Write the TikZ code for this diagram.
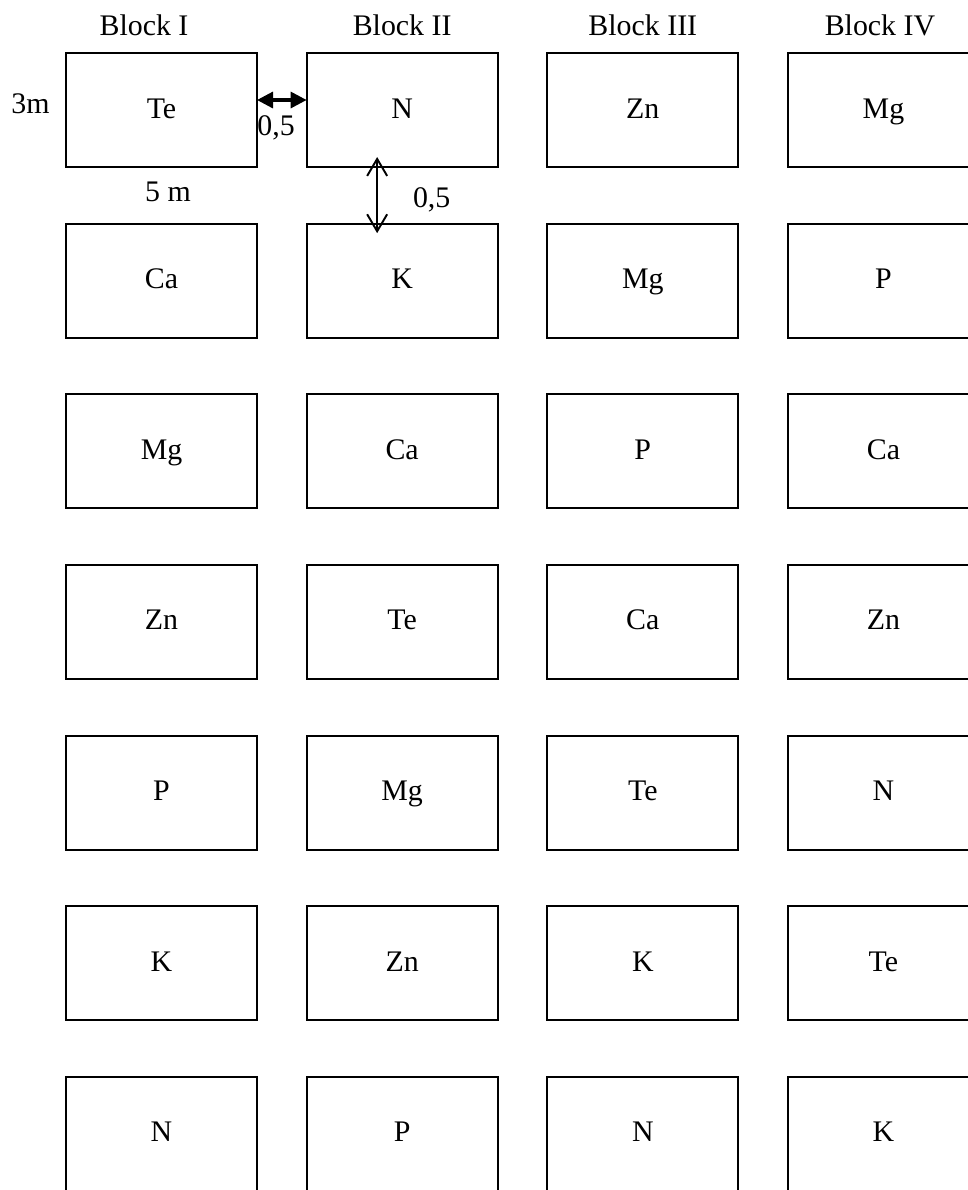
\documentclass[tikz,border=0pt]{standalone}
\usepackage{fontspec}
\setmainfont{Liberation Serif}
\usetikzlibrary{
    arrows.meta,
    positioning
}

\begin{document}
\begin{tikzpicture}[
    node distance=1.133cm and 0.993cm,
    cell/.style={rectangle, draw=black, line width=1.1pt, minimum width=3.82cm, minimum height=2.28cm, inner sep=0pt, outer sep=0pt, text height=0.32cm, text depth=0cm, text centered, font=\fontsize{17}{20}\selectfont},
    blockhead/.style={inner sep=0pt, font=\fontsize{17}{20}\selectfont},
    dimlabel/.style={inner sep=0pt, font=\fontsize{17}{20}\selectfont},
    gaparrow/.style={line width=1.8pt, {Triangle[length=0.32cm,width=0.32cm]}-{Triangle[length=0.32cm,width=0.32cm]}},
    walkarrow/.style={line width=1.1pt, {Straight Barb[length=0.34cm,width=0.4cm]}-{Straight Barb[length=0.34cm,width=0.4cm]}}
]
    \useasboundingbox (0,0) rectangle (19.36,-23.8);
    \clip (0,0) rectangle (19.36,-23.8);

    \node[cell] (te1) at (3.23,-2.20) {Te};
    \node[cell] (n2) [right=of te1] {N};
    \node[cell] (zn3) [right=of n2] {Zn};
    \node[cell] (mg4) [right=of zn3] {Mg};

    \node[cell] (ca1) [below=of te1] {Ca};
    \node[cell] (k2) [below=of n2] {K};
    \node[cell] (mg3) [below=of zn3] {Mg};
    \node[cell] (p4) [below=of mg4] {P};

    \node[cell] (mg1) [below=of ca1] {Mg};
    \node[cell] (ca2) [below=of k2] {Ca};
    \node[cell] (p3) [below=of mg3] {P};
    \node[cell] (ca4) [below=of p4] {Ca};

    \node[cell] (zn1) [below=of mg1] {Zn};
    \node[cell] (te2) [below=of ca2] {Te};
    \node[cell] (ca3) [below=of p3] {Ca};
    \node[cell] (zn4) [below=of ca4] {Zn};

    \node[cell] (p1) [below=of zn1] {P};
    \node[cell] (mg2) [below=of te2] {Mg};
    \node[cell] (te3) [below=of ca3] {Te};
    \node[cell] (n4) [below=of zn4] {N};

    \node[cell] (k1) [below=of p1] {K};
    \node[cell] (zn2) [below=of mg2] {Zn};
    \node[cell] (k3) [below=of te3] {K};
    \node[cell] (te4) [below=of n4] {Te};

    \node[cell] (n1) [below=of k1] {N};
    \node[cell] (p2) [below=of zn2] {P};
    \node[cell] (n3) [below=of k3] {N};
    \node[cell] (k4) [below=of te4] {K};

    \node[blockhead, anchor=base] (blockI) at ([xshift=-0.35cm,yshift=0.36cm]te1.north) {Block I};
    \node[blockhead, anchor=base] (blockII) at ([yshift=0.36cm]n2.north) {Block II};
    \node[blockhead, anchor=base] (blockIII) at ([yshift=0.36cm]zn3.north) {Block III};
    \node[blockhead, anchor=base] (blockIV) at ([xshift=-0.07cm,yshift=0.36cm]mg4.north) {Block IV};

    \node[dimlabel, left=0.32cm of te1.west, yshift=0.12cm] (side) {3m};
    \node[dimlabel, below=0.3cm of te1.south, xshift=0.13cm] (length) {5 m};
    \node[dimlabel, anchor=north west] (gapx) at ([yshift=-0.1cm]te1.east) {0,5};
    \node[dimlabel, anchor=north west] (gapy) at ([xshift=0.21cm,yshift=-0.4cm]n2.south) {0,5};

    \draw[gaparrow] ([yshift=0.2cm]te1.east) -- ([yshift=0.2cm]n2.west);
    \draw[walkarrow] ([xshift=-0.5cm,yshift=0.2cm]n2.south) -- ([xshift=-0.5cm,yshift=-0.19cm]k2.north);
\end{tikzpicture}
\end{document}
